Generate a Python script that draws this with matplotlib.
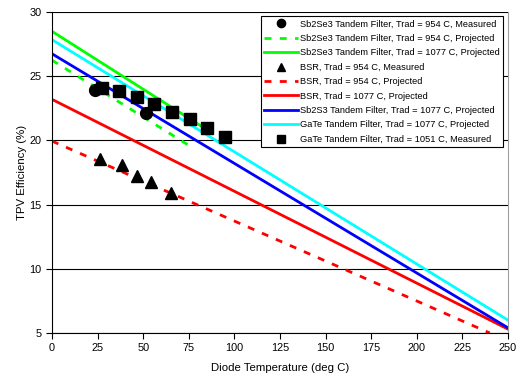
import matplotlib.pyplot as plt

plt.rcParams['font.family'] = ['Liberation Sans', 'DejaVu Sans']

# measured points
sb_meas_t = [23.6, 51.5]
sb_meas_eff = [23.95, 22.1]
bsr_meas_t = [26.3, 38.2, 46.4, 54.3, 65.1]
bsr_meas_eff = [18.55, 18.1, 17.25, 16.8, 15.9]
gate_meas_t = [27.6, 36.7, 46.4, 56.1, 66.0, 75.7, 85.1, 94.8]
gate_meas_eff = [24.1, 23.85, 23.4, 22.8, 22.25, 21.65, 21.0, 20.25]

# projected lines (end points)
sb954_t = [0, 78]
sb954_eff = [26.25, 19.35]
sb1077_t = [0, 82]
sb1077_eff = [28.5, 21.1]
bsr954_t = [0, 240]
bsr954_eff = [19.95, 5.0]
bsr1077_t = [0, 250]
bsr1077_eff = [23.2, 5.3]
sbs1077_t = [0, 250]
sbs1077_eff = [26.75, 5.4]
gate1077_t = [0, 250]
gate1077_eff = [27.85, 6.0]

fig = plt.figure(figsize=(5.2, 3.77), dpi=100)
ax = fig.add_axes([0.1, 0.1167, 0.877, 0.8513])

ax.plot(sb_meas_t, sb_meas_eff, 'o', color='black', ms=8.5, zorder=5,
        label='Sb2Se3 Tandem Filter, Trad = 954 C, Measured')
ax.plot(sb954_t, sb954_eff, color='#00ff00', lw=2, ls=(0, (2.5, 3)),
        label='Sb2Se3 Tandem Filter, Trad = 954 C, Projected')
ax.plot(sb1077_t, sb1077_eff, color='#00ff00', lw=2,
        label='Sb2Se3 Tandem Filter, Trad = 1077 C, Projected')
ax.plot(bsr_meas_t, bsr_meas_eff, '^', color='black', ms=8, zorder=5,
        label='BSR, Trad = 954 C, Measured')
ax.plot(bsr954_t, bsr954_eff, color='#ff0000', lw=2, ls=(0, (2.5, 3)),
        label='BSR, Trad = 954 C, Projected')
ax.plot(bsr1077_t, bsr1077_eff, color='#ff0000', lw=2,
        label='BSR, Trad = 1077 C, Projected')
ax.plot(sbs1077_t, sbs1077_eff, color='#0000ff', lw=2,
        label='Sb2S3 Tandem Filter, Trad = 1077 C, Projected')
ax.plot(gate1077_t, gate1077_eff, color='#00ffff', lw=2,
        label='GaTe Tandem Filter, Trad = 1077 C, Projected')
ax.plot(gate_meas_t, gate_meas_eff, 's', color='black', ms=8.5, zorder=6,
        label='GaTe Tandem Filter, Trad = 1051 C, Measured')

ax.set_xlim(0, 250)
ax.set_ylim(5, 30)
ax.set_xticks(range(0, 251, 25))
ax.set_yticks(range(5, 31, 5))
ax.yaxis.grid(True, color='black', lw=0.8)
ax.set_axisbelow(True)
ax.tick_params(direction='out', length=4, width=0.8, labelsize=7.8, colors='black')
ax.spines['top'].set_visible(False)
ax.spines['right'].set_color('#a0a0a0')
ax.spines['left'].set_linewidth(0.8)
ax.spines['bottom'].set_linewidth(0.8)

ax.set_xlabel('Diode Temperature (deg C)', fontsize=8.2, labelpad=7)
ax.set_ylabel('TPV Efficiency (%)', fontsize=8.2, labelpad=2)

leg = ax.legend(loc='upper right', bbox_to_anchor=(0.989, 0.9875), borderaxespad=0,
                fontsize=6.7, handlelength=3.6, handletextpad=0.2, labelspacing=0.58,
                borderpad=0.38, fancybox=False, edgecolor='black', framealpha=1,
                markerscale=0.7)
leg.get_frame().set_linewidth(0.8)

fig.savefig('out.png', dpi=100)
